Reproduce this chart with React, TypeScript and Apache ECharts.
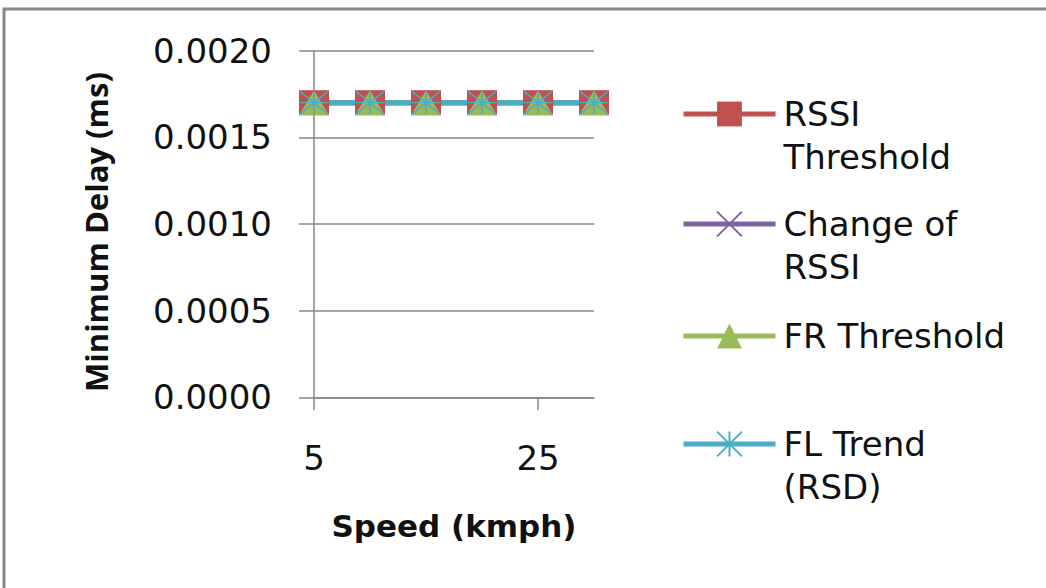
import React, { useEffect, useRef } from "react";
import * as echarts from "echarts";

const speeds = ["5", "10", "15", "20", "25", "30"];
const rssiThreshold = [0.0017, 0.0017, 0.0017, 0.0017, 0.0017, 0.0017];
const changeOfRssi = [0.0017, 0.0017, 0.0017, 0.0017, 0.0017, 0.0017];
const frThreshold = [0.0017, 0.0017, 0.0017, 0.0017, 0.0017, 0.0017];
const flTrend = [0.0017, 0.0017, 0.0017, 0.0017, 0.0017, 0.0017];
const seriesNames = ["RSSI Threshold", "Change of RSSI", "FR Threshold", "FL Trend (RSD)"];
const legendLabels = ["RSSI\nThreshold", "Change of\nRSSI", "FR Threshold", "FL Trend\n(RSD)"];
const colors = ["#C0504D", "#8064A2", "#9BBB59", "#4BACC6"];

const legendCenters = [114, 224, 336, 444];

export default function App() {
  const ref = useRef<HTMLDivElement>(null);
  useEffect(() => {
    if (!ref.current) return;
    const chart = echarts.init(ref.current, undefined, { renderer: "svg" });
    const gridColor = "#878787";
    const legends = seriesNames.map((name, i) => {
      const twoLine = legendLabels[i].includes("\n");
      const c = legendCenters[i];
      return {
        show: true,
        data: [name],
        orient: "vertical",
        left: 681,
        top: twoLine ? c - 64.5 : c - 21.5,
        itemWidth: 92,
        itemHeight: 31,
        padding: 0,
        selectedMode: false,
        lineStyle: { width: 5 },
        formatter: () => (twoLine ? "\n" + legendLabels[i] : legendLabels[i]),
        textStyle: {
          fontFamily: "DejaVu Sans",
          fontSize: 34,
          lineHeight: 43,
          color: "#111",
          padding: [0, 0, 0, 3],
        },
      };
    });
    const xSym = "path://M0 0L10 10M10 0L0 10";
    const starSym = "path://M0 0L10 10M10 0L0 10M5 0L5 10M0 5L10 5";
    chart.setOption({
      animation: false,
      color: colors,
      graphic: [
        {
          type: "rect",
          silent: true,
          z: -10,
          shape: { x: 4, y: 9, width: 1300, height: 900 },
          style: { fill: "none", stroke: "#878787", lineWidth: 3 },
        },
      ],
      grid: { left: 314, right: 452, top: 50.7, bottom: 190.7, containLabel: false },
      legend: legends,
      xAxis: {
        type: "category",
        data: speeds,
        boundaryGap: false,
        name: "Speed (kmph)",
        nameLocation: "middle",
        nameGap: 113,
        nameTextStyle: { fontFamily: "DejaVu Sans", fontWeight: "bold", fontSize: 31, color: "#111" },
        axisLine: { lineStyle: { color: gridColor, width: 1.5 } },
        axisTick: { show: true, interval: 3, length: 13, lineStyle: { color: gridColor, width: 1.5 } },
        axisLabel: { interval: 3, margin: 44, fontFamily: "DejaVu Sans", fontSize: 34, color: "#111" },
        splitLine: { show: false },
      },
      yAxis: {
        type: "value",
        min: 0,
        max: 0.002,
        interval: 0.0005,
        name: "Minimum Delay (ms)",
        nameLocation: "middle",
        nameGap: 203,
        nameTextStyle: {
          fontFamily: "Open Sans",
          fontWeight: "bold",
          fontSize: 31,
          color: "#111",
          padding: [0, 16, 0, 0],
        },
        axisLine: { show: true, lineStyle: { color: gridColor, width: 1.5 } },
        axisTick: { show: true, length: 15, lineStyle: { color: gridColor, width: 1.5 } },
        axisLabel: {
          margin: 42,
          fontFamily: "DejaVu Sans",
          fontSize: 34,
          color: "#111",
          formatter: (v: number) => v.toFixed(4),
        },
        splitLine: { show: true, lineStyle: { color: gridColor, width: 1.5 } },
      },
      series: [
        {
          name: seriesNames[0],
          type: "line",
          data: rssiThreshold,
          symbol: "rect",
          symbolSize: [30, 25],
          itemStyle: { color: colors[0] },
          lineStyle: { color: colors[0], width: 5 },
        },
        {
          name: seriesNames[1],
          type: "line",
          data: changeOfRssi,
          symbol: xSym,
          symbolSize: [28, 23],
          itemStyle: { color: "rgba(0,0,0,0)", borderColor: colors[1], borderWidth: 1.5 },
          lineStyle: { color: colors[1], width: 5 },
        },
        {
          name: seriesNames[2],
          type: "line",
          data: frThreshold,
          symbol: "triangle",
          symbolSize: [30, 25],
          itemStyle: { color: colors[2] },
          lineStyle: { color: colors[2], width: 5 },
        },
        {
          name: seriesNames[3],
          type: "line",
          data: flTrend,
          symbol: starSym,
          symbolSize: [28, 23],
          itemStyle: { color: "rgba(0,0,0,0)", borderColor: colors[3], borderWidth: 1.5 },
          lineStyle: { color: colors[3], width: 5 },
        },
      ],
    });
    return () => chart.dispose();
  }, []);
  return (
    <div
      ref={ref}
      style={{ position: "fixed", left: 0, top: 0, width: 1046, height: 588, background: "#fff" }}
    />
  );
}
